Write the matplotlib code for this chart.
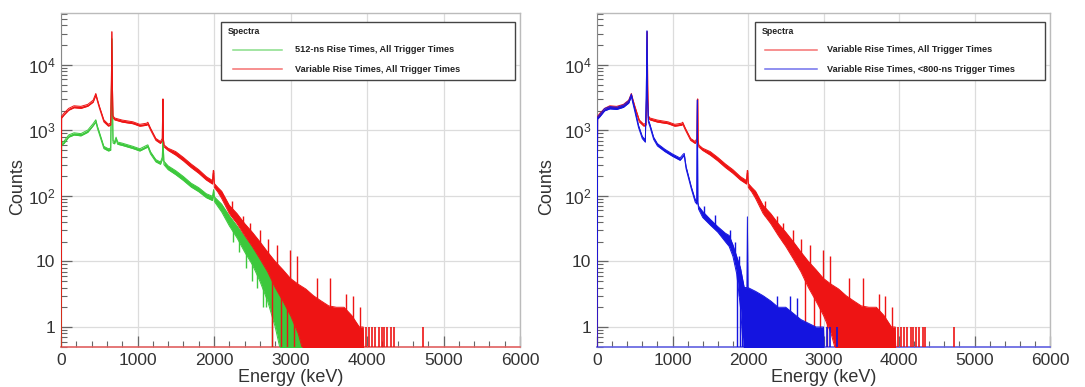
import numpy as np
import matplotlib
matplotlib.use("Agg")
import matplotlib.pyplot as plt
from matplotlib.ticker import LogLocator, NullFormatter, MultipleLocator
from matplotlib.patches import Rectangle
from matplotlib.lines import Line2D

plt.rcParams['font.family'] = ['Liberation Sans', 'DejaVu Sans']
plt.rcParams['mathtext.fontset'] = 'custom'
plt.rcParams['mathtext.rm'] = 'Liberation Sans'
plt.rcParams['mathtext.it'] = 'Liberation Sans:italic'
plt.rcParams['mathtext.bf'] = 'Liberation Sans:bold'

# ---------------- data ----------------
# Variable rise times, all trigger times (red): energy (keV), lower / upper envelope of the histogram
red_E = [0, 8, 40, 100, 170, 260, 350, 420, 455, 475, 500, 560, 620, 650, 658, 665, 672, 680, 700,
         800, 940, 1030, 1120, 1135, 1170, 1240, 1300, 1324, 1330, 1335, 1340, 1348, 1400, 1500, 1600,
         1700, 1800, 1900, 1980, 1990, 1996, 2004, 2050, 2100, 2200, 2300, 2400, 2500, 2600, 2700,
         2800, 2900, 3000, 3100, 3200, 3300, 3400, 3500, 3600, 3700, 3800, 3900, 3950, 3960]
red_lo = [0.3, 1545, 1720, 2030, 2220, 2170, 2340, 2700, 3430, 2800, 2220, 1350, 1160, 1215, 5000, 32000, 5000, 1565, 1450,
          1340, 1265, 1160, 1200, 1245, 1015, 705, 632, 705, 3000, 3000, 680, 560, 495, 420, 343,
          272, 222, 175, 152, 220, 220, 135, 115, 92, 54, 38, 25, 17, 11, 7,
          4, 2.5, 1.5, 0.8, 0.3, 0.3, 0.3, 0.3, 0.3, 0.3, 0.3, 0.3, 0.3, 0.3]
red_hi = [0.3, 1655, 1840, 2170, 2380, 2330, 2500, 2900, 3670, 3000, 2380, 1450, 1240, 1305, 5000, 32000, 5000, 1675, 1550,
          1440, 1355, 1240, 1290, 1335, 1085, 755, 678, 755, 3000, 3000, 720, 600, 535, 475, 387,
          308, 252, 197, 172, 245, 245, 155, 135, 118, 72, 54, 38, 28, 20, 14,
          10, 7.5, 5.5, 4.5, 3.8, 3.0, 2.5, 2.1, 2.0, 2.0, 1.5, 1.0, 1.0, 0.3]
# isolated bins sticking out of the red band: energy, bottom, top
red_spike_E = [2230, 2380, 2470, 2600, 2700, 2820, 2990, 3090, 3340, 3520, 3730, 3820, 3910]
red_spike_bot = [50, 28, 20, 12, 8, 4, 1.8, 1.0, 0.3, 0.3, 0.3, 0.3, 0.3]
red_spike_top = [85, 50, 38, 30, 22, 18, 15, 12, 5.5, 5.5, 3.2, 3.0, 2.0]
red_dip_E = [2760, 2880, 2960, 3040]
red_dip_bot = [0.3, 0.3, 0.3, 0.3]
red_dip_top = [6, 3.5, 2.5, 1.5]
red_single_E = [3990, 4030, 4060, 4100, 4160, 4190, 4220, 4260, 4320, 4350, 4730]

# 512-ns rise times, all trigger times (green)
green_E = [0, 8, 40, 100, 170, 260, 350, 420, 455, 475, 500, 560, 620, 650, 658, 665, 672, 680, 700,
           720, 740, 800, 940, 1030, 1120, 1135, 1170, 1240, 1300, 1324, 1332, 1345, 1400, 1500, 1600,
           1700, 1800, 1900, 1980, 1995, 2005, 2100, 2200, 2300, 2400, 2500, 2600, 2700, 2800,
           2900, 3000, 3100, 3150, 3160]
green_lo = [0.3, 595, 634, 787, 850, 826, 936, 1176, 1344, 1080, 878, 528, 485, 500, 3000, 25000, 3000, 643, 624,
            730, 614, 590, 528, 485, 547, 557, 437, 331, 304, 360, 800, 300, 252, 211, 172,
            137, 116, 94, 85, 115, 82, 57, 35, 23, 14, 9, 5, 2.5, 1,
            0.3, 0.3, 0.3, 0.3, 0.3]
green_hi = [0.3, 645, 686, 853, 920, 894, 1014, 1274, 1456, 1170, 952, 572, 525, 540, 3000, 25000, 3000, 697, 676,
            790, 666, 640, 572, 525, 593, 603, 473, 359, 330, 390, 800, 340, 288, 243, 198,
            157, 134, 108, 99, 125, 97, 75, 50, 35, 24, 17, 11, 7, 4.5,
            3, 2, 1, 1, 0.3]
# downward fluctuations of the green band: energy, bottom, top
green_dip_E = [2250, 2330, 2420, 2500, 2560, 2640, 2680, 2760]
green_dip_bot = [20, 14, 8, 5, 4, 2, 2, 0.3]
green_dip_top = [40, 30, 20, 14, 11, 7, 6, 4]

# Variable rise times, <800-ns trigger times (blue)
blue_E = [0, 8, 40, 100, 170, 260, 350, 420, 455, 475, 500, 550, 600, 640, 652, 662, 670, 680, 700,
          750, 800, 900, 1000, 1100, 1140, 1155, 1180, 1250, 1300, 1322, 1329, 1336, 1345, 1400, 1500,
          1600, 1700, 1750, 1800, 1850, 1900, 1950, 1985, 1992, 1999, 2100, 2200, 2300, 2400, 2500,
          2700, 2900, 3000, 3010]
blue_lo = [0.3, 1490, 1630, 1990, 2135, 2090, 2255, 2615, 3310, 2590, 1970, 1105, 750, 662, 3000, 33000, 3000, 1345, 1150,
           730, 580, 475, 403, 350, 398, 413, 259, 127, 81, 75, 2900, 80, 63, 47, 36,
           28, 20, 17, 12, 6.5, 2, 0.3, 0.3, 0.3, 0.3, 0.3, 0.3, 0.3, 0.3, 0.3,
           0.3, 0.3, 0.3, 0.3]
blue_hi = [0.3, 1610, 1770, 2160, 2315, 2260, 2445, 2835, 3590, 2810, 2130, 1195, 810, 718, 3000, 33000, 3000, 1455, 1250,
           790, 630, 515, 437, 380, 432, 447, 281, 137, 89, 81, 2900, 80, 70, 58, 44,
           34, 27, 25, 18, 12, 8, 4, 4, 48, 4, 3.5, 3, 2.5, 2, 2,
           1.3, 1, 1, 0.3]
blue_spike_E = [1420, 1560, 1760, 1830, 1880, 2380, 2560, 2650]
blue_spike_bot = [47, 32, 17, 9, 3, 0.3, 0.3, 0.3]
blue_spike_top = [70, 52, 30, 20, 12, 3.0, 3.0, 2.8]
blue_dip_E = [1860, 1895, 1920]
blue_dip_bot = [0.3, 0.3, 0.3]
blue_dip_top = [8, 6, 5]
blue_single_E = [3040, 3080, 3180]

legend_left = ["512-ns Rise Times, All Trigger Times", "Variable Rise Times, All Trigger Times"]
legend_right = ["Variable Rise Times, All Trigger Times", "Variable Rise Times, <800-ns Trigger Times"]

xticks = [0, 1000, 2000, 3000, 4000, 5000, 6000]
yticks = [1, 10, 100, 1000, 10000]
ytick_labels = ["1", "10", r"$10^{2}$", r"$10^{3}$", r"$10^{4}$"]

RED = '#ee1414'
GREEN = '#3cc83c'
BLUE = '#1414e0'
GRID = '#dcdcdc'
TXT = '#333333'

W, H = 1085, 387
fig = plt.figure(figsize=(W / 100, H / 100), dpi=100)


def fx(px):
    return px / W


def fy(py):
    return 1 - py / H


def draw_series(ax, E, lo, hi, color, z):
    ax.fill_between(E, lo, hi, color=color, lw=0, zorder=z)
    ax.plot(E, hi, color=color, lw=0.7, zorder=z)
    ax.plot(E, lo, color=color, lw=0.7, zorder=z)


def style_axes(ax, bottom_color):
    ax.set_yscale('log')
    ax.set_xlim(0, 6000)
    ax.set_ylim(0.495, 6.2e4)
    ax.set_xticks(xticks)
    ax.set_xticklabels([str(t) for t in xticks])
    ax.xaxis.set_minor_locator(MultipleLocator(200))
    ax.set_yticks(yticks)
    ax.set_yticklabels(ytick_labels)
    ax.yaxis.set_minor_locator(LogLocator(base=10, subs=np.arange(2, 10), numticks=30))
    ax.yaxis.set_minor_formatter(NullFormatter())
    ax.tick_params(which='both', direction='in', colors='#666666', labelcolor=TXT,
                   labelsize=12.5, top=False, right=False)
    ax.tick_params(axis='y', which='major', length=8, width=0.9, pad=4)
    ax.tick_params(axis='y', which='minor', length=4, width=0.8)
    ax.tick_params(axis='x', which='major', length=8, width=0.9, pad=4)
    ax.tick_params(axis='x', which='minor', length=4, width=0.8)
    ax.grid(True, which='major', color=GRID, lw=0.9, zorder=0)
    ax.set_axisbelow(True)
    for s in ['top', 'right']:
        ax.spines[s].set_color('#bbbbbb')
        ax.spines[s].set_linewidth(1.0)
    ax.spines['left'].set_color('#888888')
    ax.spines['bottom'].set_color(bottom_color)
    ax.spines['bottom'].set_linewidth(1.2)


def draw_legend(x0, x1, y0, y1, lx0, lx1, tx, entries):
    fig.add_artist(Rectangle((fx(x0), fy(y1)), fx(x1) - fx(x0), fy(y0) - fy(y1),
                             transform=fig.transFigure, facecolor='white',
                             edgecolor='#444444', lw=1.0, zorder=10))
    fig.text(fx(x0 + 7), fy(31), "Spectra", fontsize=6.3, fontweight='bold',
             color='#222222', va='center', ha='left', zorder=11)
    for (label, color), py in zip(entries, [50, 69]):
        fig.add_artist(Line2D([fx(lx0), fx(lx1)], [fy(py), fy(py)], color=color, lw=1.1,
                              alpha=0.6, transform=fig.transFigure, zorder=11))
        fig.text(fx(tx), fy(py), label, fontsize=6.6, fontweight='bold', color='#222222',
                 va='center', ha='left', zorder=11)


# ---------------- left panel ----------------
ax1 = fig.add_axes([fx(61), fy(347), fx(520) - fx(61), fy(13) - fy(347)])
style_axes(ax1, '#e06060')
draw_series(ax1, green_E, green_lo, green_hi, GREEN, 3)
ax1.vlines(green_dip_E, green_dip_bot, green_dip_top, color=GREEN, lw=1.0, zorder=3)
draw_series(ax1, red_E, red_lo, red_hi, RED, 4)
ax1.vlines(red_spike_E, red_spike_bot, red_spike_top, color=RED, lw=1.0, zorder=4)
ax1.vlines(red_dip_E, red_dip_bot, red_dip_top, color=RED, lw=1.0, zorder=4)
ax1.vlines(red_single_E, 0.3, 1.0, color=RED, lw=1.2, zorder=4)
ax1.set_xlabel("Energy (keV)", fontsize=13, color=TXT, va='center')
ax1.xaxis.set_label_coords(0.5, (347 - 378) / 334)
ax1.set_ylabel("Counts", fontsize=13, color=TXT, va='center')
ax1.yaxis.set_label_coords((18 - 61) / 459, (347 - 187) / 334)
draw_legend(221, 515, 22, 80, 233, 282, 295, list(zip(legend_left, [GREEN, RED])))

# ---------------- right panel ----------------
ax2 = fig.add_axes([fx(597), fy(347), fx(1050) - fx(597), fy(13) - fy(347)])
style_axes(ax2, '#6060e0')
draw_series(ax2, red_E, red_lo, red_hi, RED, 3)
ax2.vlines(red_spike_E, red_spike_bot, red_spike_top, color=RED, lw=1.0, zorder=3)
ax2.vlines(red_dip_E, red_dip_bot, red_dip_top, color=RED, lw=1.0, zorder=3)
ax2.vlines(red_single_E, 0.3, 1.0, color=RED, lw=1.2, zorder=3)
draw_series(ax2, blue_E, blue_lo, blue_hi, BLUE, 4)
ax2.vlines(blue_spike_E, blue_spike_bot, blue_spike_top, color=BLUE, lw=1.0, zorder=4)
ax2.vlines(blue_dip_E, blue_dip_bot, blue_dip_top, color=BLUE, lw=1.0, zorder=4)
ax2.vlines(blue_single_E, 0.3, 1.0, color=BLUE, lw=1.2, zorder=4)
ax2.set_xlabel("Energy (keV)", fontsize=13, color=TXT, va='center')
ax2.xaxis.set_label_coords(0.5, (347 - 378) / 334)
ax2.set_ylabel("Counts", fontsize=13, color=TXT, va='center')
ax2.yaxis.set_label_coords((547 - 597) / 453, (347 - 187) / 334)
draw_legend(755, 1045, 22, 80, 765, 817, 827, list(zip(legend_right, [RED, BLUE])))

fig.savefig("out.png", dpi=100)
